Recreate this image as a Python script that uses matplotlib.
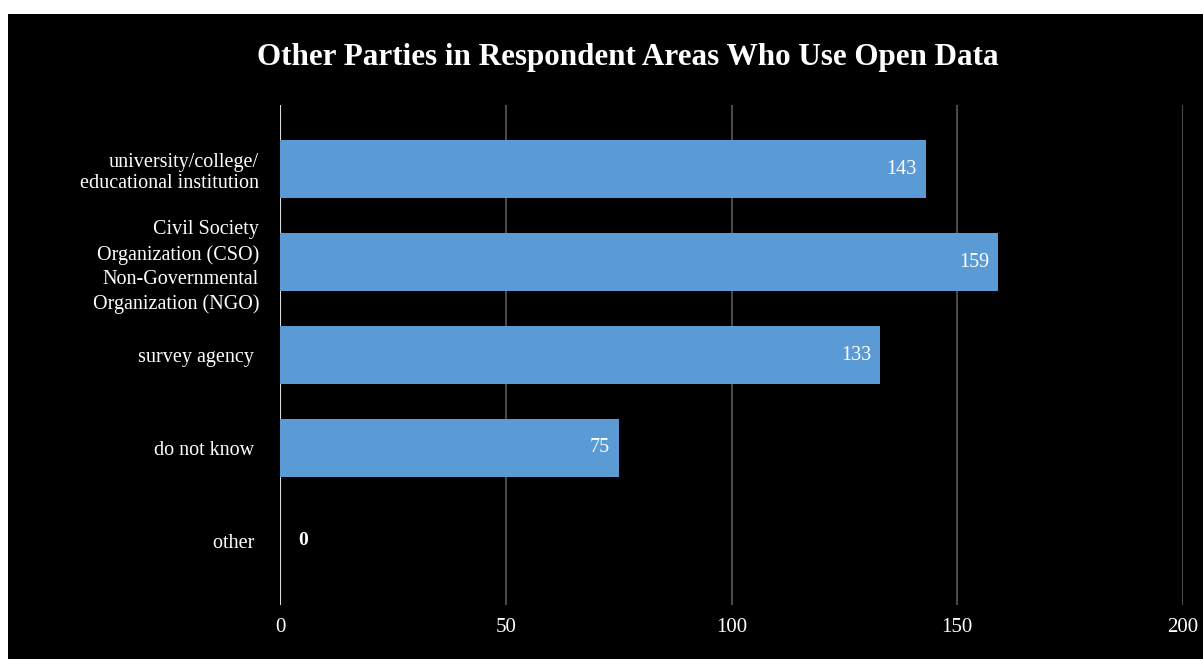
import matplotlib
matplotlib.use("Agg")
import matplotlib.pyplot as plt
from matplotlib.patches import Rectangle

#--Chart data--#
categories = [
    "university/college/\neducational institution",
    "Civil Society\nOrganization (CSO)\nNon-Governmental\nOrganization (NGO)",
    "survey agency ",
    "do not know ",
    "other ",
]
counts = [143, 159, 133, 75, 0]
x_ticks = [0, 50, 100, 150, 200]

plt.rcParams['font.family'] = ['Liberation Serif', 'DejaVu Serif']

fig = plt.figure(figsize=(12.03, 6.59), dpi=100, facecolor='black')
# white strip on top and left, like the screenshot
fig.patches.append(Rectangle((0, 1 - 14 / 659), 1, 14 / 659,
                             transform=fig.transFigure, facecolor='white',
                             edgecolor='none', zorder=-10))
fig.patches.append(Rectangle((0, 0), 8 / 1203, 1,
                             transform=fig.transFigure, facecolor='white',
                             edgecolor='none', zorder=-10))

ax = fig.add_axes([280 / 1203, 1 - 605 / 659, 903 / 1203, 500 / 659])
ax.set_facecolor('black')

ypos = list(range(len(categories)))
ax.barh(ypos, counts, height=0.63, color='#5b9bd5', zorder=3)

for y, v in zip(ypos, counts):
    if v > 0:
        ax.text(v - 2, y, str(v), ha='right', va='center', color='white',
                fontsize=14.5, zorder=4)
    else:
        ax.text(4, y, str(v), ha='left', va='center', color='white',
                fontsize=14, fontweight='bold', zorder=4)

ax.set_xlim(0, 200)
ax.set_ylim(4.69, -0.69)
ax.set_xticks(x_ticks)
ax.set_yticks(ypos)
ax.set_yticklabels(categories, fontsize=14.5, color='white', linespacing=1.15)
ax.get_yticklabels()[1].set_linespacing(1.38)
ax.tick_params(axis='x', colors='white', labelsize=15, length=0, pad=9)
ax.tick_params(axis='y', length=0, pad=15)
for lbl in ax.get_xticklabels():
    lbl.set_color('white')

ax.grid(axis='x', color='#5a5a5a', linewidth=1.2, zorder=0)
ax.axvline(0, color='#d9d9d9', linewidth=1.5, zorder=2)
for s in ax.spines.values():
    s.set_visible(False)

fig.text(628 / 1203, 1 - 57 / 659, "Other Parties in Respondent Areas Who Use Open Data",
         ha='center', va='center', color='white', fontsize=22.4, fontweight='bold')

fig.savefig("out.png", dpi=100, facecolor=fig.get_facecolor())
